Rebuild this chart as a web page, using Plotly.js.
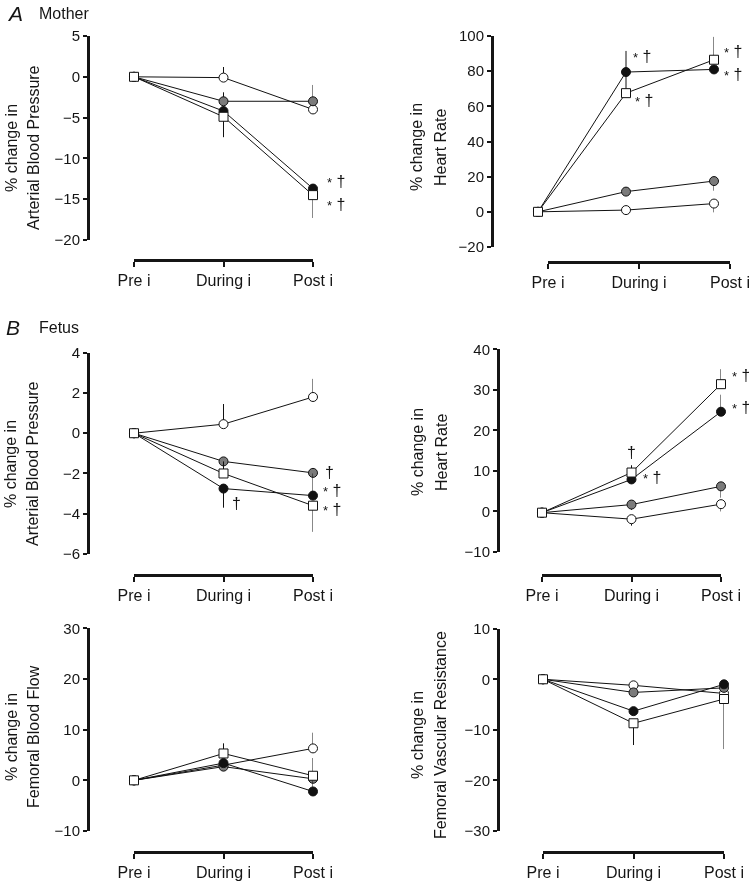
<!DOCTYPE html>
<html>
<head>
<meta charset="utf-8">
<script src="https://cdn.plot.ly/plotly-3.0.1.min.js"></script>
<style>html,body{margin:0;padding:0;background:#fff;}#chart{width:749px;height:882px;filter:grayscale(1);}</style>
</head>
<body>
<div id="chart"></div>
<script>
// ---------- DATA ----------
const categories = ['Pre i', 'During i', 'Post i'];
const xIndex = [0, 1, 2];

// Panel A left: Mother – % change in arterial blood pressure
const motherBP_open   = [0, -0.1, -4.0];
const motherBP_grey   = [0, -3.0, -3.0];
const motherBP_black  = [0, -4.2, -13.7];
const motherBP_square = [0, -4.9, -14.5];
const motherBP_open_errUp   = [0, 1.3, 0];
const motherBP_grey_errUp   = [0, 1.1, 2.0];
const motherBP_black_errUp  = [0, 0.6, 0];
const motherBP_square_errDn = [0, 2.5, 2.8];

// Panel A right: Mother – % change in heart rate
const motherHR_open   = [0, 1.0, 4.7];
const motherHR_grey   = [0, 11.5, 17.5];
const motherHR_black  = [0, 79.5, 81.0];
const motherHR_square = [0, 67.5, 86.5];
const motherHR_open_errDn   = [0, 0, 5.0];
const motherHR_grey_errDn   = [0, 0, 5.5];
const motherHR_black_errUp  = [0, 12.0, 0];
const motherHR_square_errUp = [0, 12.0, 13.0];

// Panel B left: Fetus – % change in arterial blood pressure
const fetusBP_open   = [0, 0.45, 1.8];
const fetusBP_grey   = [0, -1.4, -1.97];
const fetusBP_black  = [0, -2.75, -3.1];
const fetusBP_square = [0, -2.0, -3.6];
const fetusBP_open_errUp   = [0, 1.0, 0.9];
const fetusBP_black_errUp  = [0, 0, 1.1];
const fetusBP_black_errDn  = [0, 0.95, 0];
const fetusBP_square_errUp = [0, 0.6, 0];
const fetusBP_square_errDn = [0, 0, 1.3];

// Panel B right: Fetus – % change in heart rate
const fetusHR_open   = [-0.3, -1.9, 1.8];
const fetusHR_grey   = [-0.3, 1.7, 6.2];
const fetusHR_black  = [-0.3, 7.9, 24.6];
const fetusHR_square = [-0.3, 9.6, 31.4];
const fetusHR_open_errDn   = [0, 1.6, 1.8];
const fetusHR_grey_errDn   = [0, 1.3, 2.8];
const fetusHR_black_errUp  = [0, 0, 4.2];
const fetusHR_square_errUp = [0, 1.8, 3.7];

// Panel C left: Fetus – % change in femoral blood flow
const femFlow_open   = [0, 3.0, 6.3];
const femFlow_grey   = [0, 2.7, 0.3];
const femFlow_black  = [0, 3.4, -2.2];
const femFlow_square = [0, 5.3, 0.9];
const femFlow_open_errUp   = [0, 0, 3.1];
const femFlow_black_errUp  = [0, 0, 2.5];
const femFlow_square_errUp = [0, 2.0, 3.5];

// Panel C right: Fetus – % change in femoral vascular resistance
const femRes_open   = [0, -1.2, -2.8];
const femRes_grey   = [0, -2.6, -1.7];
const femRes_black  = [0, -6.3, -1.0];
const femRes_square = [0, -8.7, -3.9];
const femRes_square_errDn = [0, 4.3, 9.9];

// ---------- HELPERS ----------
const W = 749, H = 882;
const PX = v => v / W;
const PY = v => 1 - v / H;
const FONT = 'Liberation Sans, Arial, Helvetica, sans-serif';
const INK = '#151515';
const zeros = [0, 0, 0];

const styles = {
  open:   {symbol: 'circle', color: '#ffffff'},
  grey:   {symbol: 'circle', color: '#7b7b7b'},
  black:  {symbol: 'circle', color: '#111111'},
  square: {symbol: 'square', color: '#ffffff'}
};

function series(y, kind, ax, errUp, errDn) {
  return {
    type: 'scatter', mode: 'lines+markers',
    x: xIndex, y: y,
    xaxis: ax[0], yaxis: ax[1],
    cliponaxis: false, showlegend: false, hoverinfo: 'skip',
    line: {color: '#111', width: 1},
    marker: {symbol: styles[kind].symbol, color: styles[kind].color, size: 9,
             line: {color: '#111', width: 1}},
    error_y: {type: 'data', symmetric: false,
              array: errUp || zeros, arrayminus: errDn || zeros,
              width: 0, thickness: 1, color: '#111'}
  };
}

function panel(ax, o, g, b, s) {
  return [
    series(o[0], 'open', ax, o[1], o[2]),
    series(g[0], 'grey', ax, g[1], g[2]),
    series(b[0], 'black', ax, b[1], b[2]),
    series(s[0], 'square', ax, s[1], s[2])
  ];
}

const traces = [].concat(
  panel(['x', 'y'],
    [motherBP_open, motherBP_open_errUp], [motherBP_grey, motherBP_grey_errUp],
    [motherBP_black, motherBP_black_errUp], [motherBP_square, null, motherBP_square_errDn]),
  panel(['x2', 'y2'],
    [motherHR_open, null, motherHR_open_errDn], [motherHR_grey, null, motherHR_grey_errDn],
    [motherHR_black, motherHR_black_errUp], [motherHR_square, motherHR_square_errUp]),
  panel(['x3', 'y3'],
    [fetusBP_open, fetusBP_open_errUp], [fetusBP_grey],
    [fetusBP_black, fetusBP_black_errUp, fetusBP_black_errDn],
    [fetusBP_square, fetusBP_square_errUp, fetusBP_square_errDn]),
  panel(['x4', 'y4'],
    [fetusHR_open, null, fetusHR_open_errDn], [fetusHR_grey, null, fetusHR_grey_errDn],
    [fetusHR_black, fetusHR_black_errUp], [fetusHR_square, fetusHR_square_errUp]),
  panel(['x5', 'y5'],
    [femFlow_open, femFlow_open_errUp], [femFlow_grey],
    [femFlow_black, femFlow_black_errUp], [femFlow_square, femFlow_square_errUp]),
  panel(['x6', 'y6'],
    [femRes_open], [femRes_grey], [femRes_black], [femRes_square, null, femRes_square_errDn])
);
// empty trace so the visible category axis of panel A-right is drawn
traces.push({type: 'scatter', x: [], y: [], xaxis: 'x7', yaxis: 'y2', showlegend: false, hoverinfo: 'skip'});

function xAxis(left, right, lineY) {
  return {
    domain: [PX(left), PX(right)], range: [0, 2], anchor: 'free', position: PY(lineY),
    tickmode: 'array', tickvals: xIndex, ticktext: categories,
    showline: true, linecolor: INK, linewidth: 2.5,
    ticks: 'outside', ticklen: 5, tickwidth: 2, tickcolor: INK,
    tickfont: {family: FONT, size: 16, color: INK},
    ticklabeloverflow: 'allow',
    showgrid: false, zeroline: false, fixedrange: true
  };
}
function yAxis(lineX, top, bottom, range, dtick) {
  return {
    domain: [PY(bottom), PY(top)], range: range, dtick: dtick, anchor: 'free', position: PX(lineX),
    showline: true, linecolor: INK, linewidth: 2.5,
    ticks: 'outside', ticklen: 4, tickwidth: 2, tickcolor: INK,
    tickfont: {family: FONT, size: 15, color: INK},
    showgrid: false, zeroline: false, fixedrange: true
  };
}

const x2 = xAxis(538, 714, 262);
x2.visible = false;

const layout = {
  width: W, height: H,
  margin: {l: 0, r: 0, t: 0, b: 0},
  paper_bgcolor: '#fff', plot_bgcolor: 'rgba(0,0,0,0)',
  showlegend: false,
  xaxis: xAxis(134, 313, 260),
  yaxis: yAxis(88, 36, 240, [-20, 5], 5),
  xaxis2: x2,
  yaxis2: yAxis(492, 36, 247, [-20, 100], 20),
  xaxis7: xAxis(548, 730, 262),
  xaxis3: xAxis(134, 313, 575),
  yaxis3: yAxis(88, 352.7, 554, [-6, 4], 2),
  xaxis4: xAxis(542, 721, 575),
  yaxis4: yAxis(498, 349.3, 552, [-10, 40], 10),
  xaxis5: xAxis(134, 313, 852),
  yaxis5: yAxis(88, 628.3, 831, [-10, 30], 10),
  xaxis6: xAxis(543, 724, 852),
  yaxis6: yAxis(498, 628.7, 831, [-30, 10], 10),
  annotations: []
};

const ann = layout.annotations;
function label(text, cx, cy, size, extra) {
  ann.push(Object.assign({text: text, xref: 'paper', yref: 'paper', x: PX(cx), y: PY(cy),
    xanchor: 'left', yanchor: 'middle', showarrow: false,
    font: {family: FONT, size: size, color: INK}}, extra || {}));
}
// panel headers
label('<i>A</i>', 5, 14, 21);
label('Mother', 37, 14, 16);
label('<i>B</i>', 4, 327, 21);
label('Fetus', 37, 327, 16);

// y-axis titles (two lines each)
function ytitle(line1, x1, line2, x2c, cy) {
  label(line1, x1, cy, 16, {textangle: -90, xanchor: 'center'});
  label(line2, x2c, cy, 16, {textangle: -90, xanchor: 'center'});
}
ytitle('% change in', 11, 'Arterial Blood Pressure', 33, 148);
ytitle('% change in', 417, 'Heart Rate', 441, 147);
ytitle('% change in', 11, 'Arterial Blood Pressure', 33, 464);
ytitle('% change in', 417, 'Heart Rate', 441, 452);
ytitle('% change in', 11, 'Femoral Blood Flow', 33, 737);
ytitle('% change in', 417, 'Femoral Vascular Resistance', 440, 735);

// significance marks
function sig(text, xr, yr, x, y, xshift, anchor) {
  ann.push({text: text, xref: xr, yref: yr, x: x, y: y, xshift: xshift || 0,
    xanchor: anchor || 'left', yanchor: 'middle', showarrow: false,
    font: {family: FONT, size: 16, color: INK}});
}
const ST = '<span style="font-size:13px">*</span> †';
sig(ST, 'x', 'y', 2, -12.8, 12);
sig(ST, 'x', 'y', 2, -15.7, 12);
sig(ST, 'x2', 'y2', 1, 88.3, 5);
sig(ST, 'x2', 'y2', 1, 63.6, 7);
sig(ST, 'x2', 'y2', 2, 91.1, 8);
sig(ST, 'x2', 'y2', 2, 77.9, 8);
sig('†', 'x3', 'y3', 1, -3.5, 6);
sig('†', 'x3', 'y3', 2, -1.96, 10);
sig(ST, 'x3', 'y3', 2, -2.85, 8);
sig(ST, 'x3', 'y3', 2, -3.8, 8);
sig('†', 'x4', 'y4', 1, 14.5, 0, 'center');
sig(ST, 'x4', 'y4', 1, 8.4, 9);
sig(ST, 'x4', 'y4', 2, 33.6, 9);
sig(ST, 'x4', 'y4', 2, 25.6, 9);

Plotly.newPlot('chart', traces, layout, {staticPlot: true, displayModeBar: false});
</script>
</body>
</html>
